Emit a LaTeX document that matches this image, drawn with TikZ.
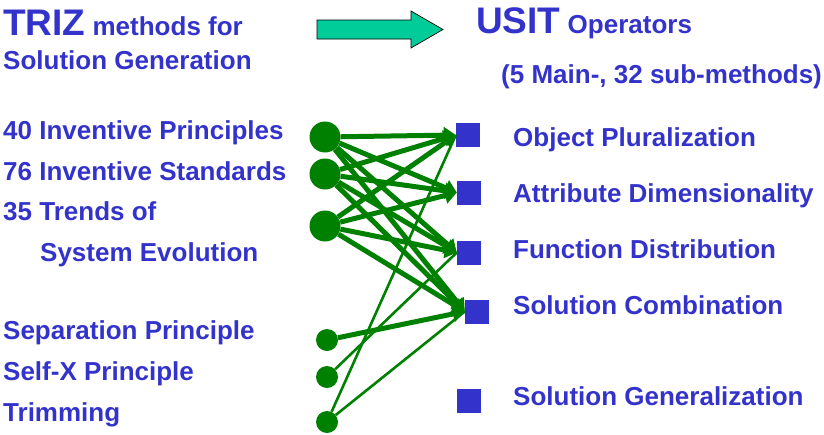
\documentclass[tikz,border=0pt]{standalone}
\usepackage{fontspec}
\setmainfont{Liberation Sans}
\usepackage{tikz}
\usetikzlibrary{arrows.meta}
\definecolor{usitblue}{RGB}{51,51,204}
\definecolor{trizgreen}{RGB}{0,128,0}
\definecolor{arrowteal}{RGB}{0,204,153}

\begin{document}
\begin{tikzpicture}[x=1pt,y=-1pt,
 txt/.style={anchor=base west,inner sep=0pt,text=usitblue,font=\fontsize{26}{30}\selectfont\bfseries},
 dot/.style={circle,fill=trizgreen,inner sep=0pt,minimum size=31pt},
 sdot/.style={dot,minimum size=22pt},
 box/.style={fill=usitblue,inner sep=0pt,minimum size=24pt},
 link/.style={draw=trizgreen,line width=5pt,-{Triangle[length=12pt,width=16pt]}},
 thinlink/.style={draw=trizgreen,line width=2.6pt}]
\useasboundingbox (0,0) rectangle (824,434);
% headings
\node[txt] (triz) at (3,35) {{\fontsize{37}{40}\selectfont TRIZ} methods for};
\node[txt] (gen) at (3,69) {Solution Generation};
\node[txt] (usit) at (476,33) {{\fontsize{37}{40}\selectfont USIT} Operators};
\node[txt] (sub) at (501,83) {(5 Main-, 32 sub-methods)};
\filldraw[fill=arrowteal,draw=black,line width=0.7pt] (317,20) -- (411,20) -- (411,11)
 -- (443,29.5) -- (411,48) -- (411,39) -- (317,39) -- cycle;
% TRIZ side
\node[txt] (l1) at (3,139) {40 Inventive Principles};
\node[txt] (l2) at (3,180) {76 Inventive Standards};
\node[txt] (l3) at (3,220) {35 Trends of};
\node[txt] (l4) at (40,261) {System Evolution};
\node[txt] (l5) at (3,339) {Separation Principle};
\node[txt] (l6) at (3,380) {Self-X Principle};
\node[txt] (l7) at (3,421) {Trimming};
\node[dot] (c1) at (325,137) {};
\node[dot] (c2) at (325,174) {};
\node[dot] (c3) at (325,226) {};
\node[sdot] (c4) at (327,340) {};
\node[sdot] (c5) at (327,377) {};
\node[sdot] (c6) at (327,422) {};
% USIT side
\node[box] (s1) at (468,135) {};
\node[box] (s2) at (469,192.5) {};
\node[box] (s3) at (469,252.5) {};
\node[box] (s4) at (477,311.5) {};
\node[box] (s5) at (469,400.5) {};
\node[txt] (r1) at (513,146) {Object Pluralization};
\node[txt] (r2) at (513,202) {Attribute Dimensionality};
\node[txt] (r3) at (513,258) {Function Distribution};
\node[txt] (r4) at (513,314) {Solution Combination};
\node[txt] (r5) at (513,405) {Solution Generalization};
% links
\draw[thinlink] (c6) -- (s1.west);
\draw[thinlink] (c6) -- (s4.west);
\draw[thinlink] (c5) -- (s3.west);
\draw[link] (c1) -- (s1.west);
\draw[link] (c1) -- (s2.west);
\draw[link] (c1) -- (s3.west);
\draw[link] (c1) -- (s4.west);
\draw[link] (c2) -- (s1.west);
\draw[link] (c2) -- (s2.west);
\draw[link] (c2) -- (s3.west);
\draw[link] (c2) -- (s4.west);
\draw[link] (c3) -- (s1.west);
\draw[link] (c3) -- (s2.west);
\draw[link] (c3) -- (s3.west);
\draw[link] (c3) -- (s4.west);
\draw[link] (c4) -- (s4.west);
\end{tikzpicture}
\end{document}
